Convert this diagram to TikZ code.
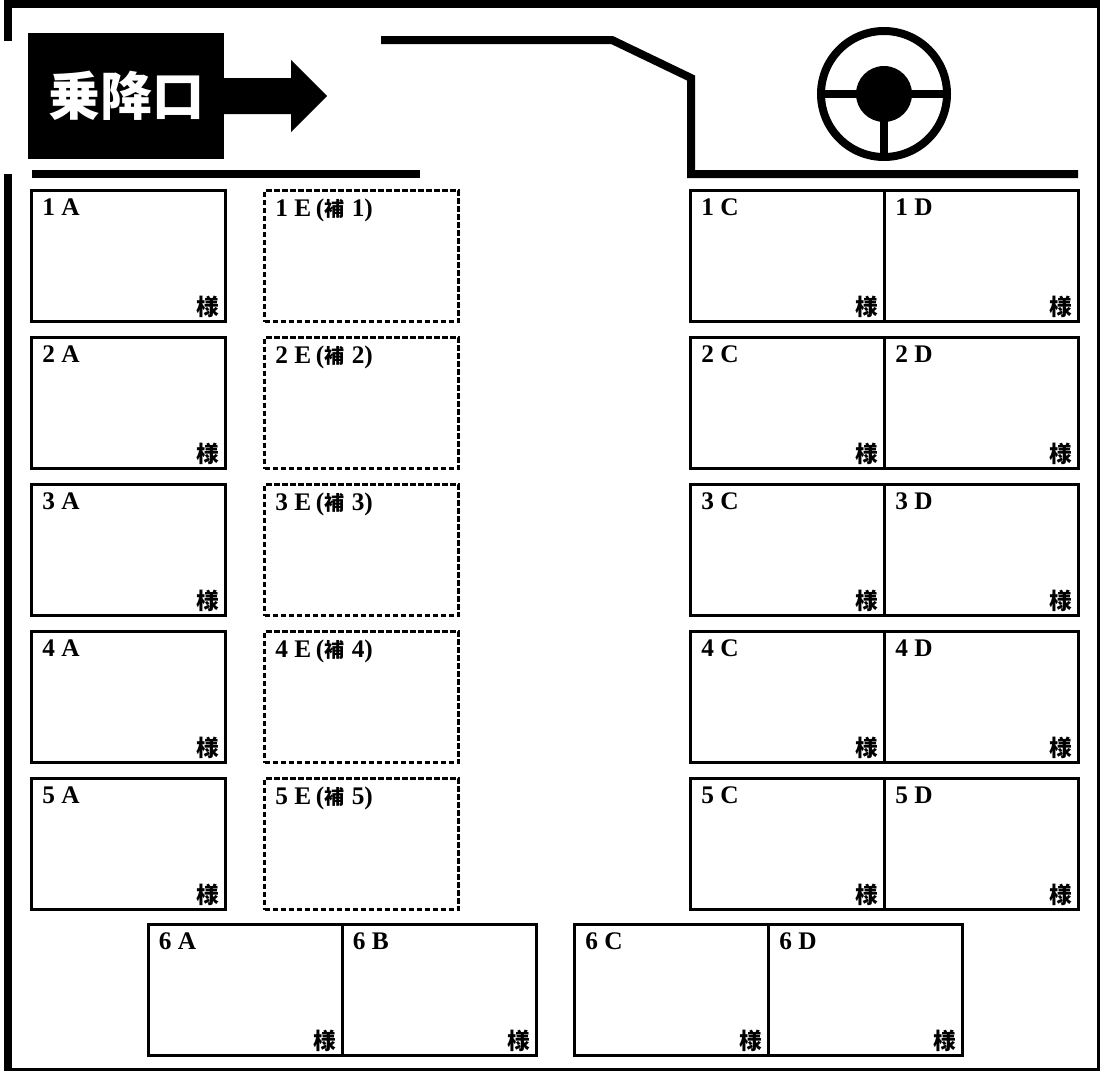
\documentclass[tikz,border=0pt]{standalone}
\usepackage{fontspec}
\newfontfamily\cjk{Noto Sans CJK JP}
\newfontfamily\latin{Liberation Serif}

\tikzset{
  wall/.style={line width=6pt},
  thinwall/.style={line width=2.25pt},
  seat/.style={draw, line width=2.25pt, rectangle, inner sep=0pt, outer sep=0pt,
    minimum width=145.5pt, minimum height=98.25pt, anchor=north west},
  spare/.style={seat, dash pattern=on 4.2pt off 1.8pt},
  seatno/.style={anchor=north west, inner sep=0pt, font=\fontsize{19}{19}\selectfont\latin\bfseries, xshift=8pt, yshift=-6.2pt},
  sama/.style={anchor=south east, inner sep=0pt, font=\fontsize{17}{17}\selectfont\cjk\bfseries, xshift=-4.5pt, yshift=3pt}
}
\newcommand{\Seat}[4]{
  \node[seat] (#1) at (#2,#3) {};
  \node[seatno] (#1no) at (#1.north west) {#4};
  \node[sama] (#1sama) at (#1.south east) {様};
}
\newcommand{\Spare}[5]{
  \node[spare] (#1) at (#2,#3) {};
  \node[seatno] (#1no) at (#1.north west) {#4\kern3.5pt({\fontsize{15}{15}\selectfont\cjk\bfseries 補}\kern5.5pt #5)};
}

\begin{document}
\begin{tikzpicture}[x=0.75pt, y=-0.75pt]
    \useasboundingbox (0,0) rectangle (1100,1071);

    % outer frame
    \draw[wall] (8,41) -- (8,4) -- (1100,4);
    \draw[wall] (8,174) -- (8,1071);
    \draw[thinwall] (8,1069.5) -- (1098.5,1069.5) -- (1098.5,8);

    % door
    \node[fill=black, text=white, inner sep=0pt, outer sep=0pt, minimum width=147pt, minimum height=94.5pt, anchor=north west,
      font=\fontsize{39}{39}\selectfont\cjk\bfseries] (door) at (28,33) {乗降口};
    \fill (door.east |- 0,78) -- (291,78) -- (291,60) -- (327,96) -- (291,132) -- (291,114) -- (door.east |- 0,114) -- cycle;

    % cabin walls
    \draw[wall] (32,174) -- (420,174);
    \draw[wall] (381,40) -- (612,40) -- (691,78) -- (691,174) -- (1078,174);

    % steering wheel
    \node[circle, draw, line width=6pt, minimum size=94.5pt, inner sep=0pt, outer sep=0pt] (wheel) at (884,94) {};
    \node[circle, fill=black, minimum size=42pt, inner sep=0pt, outer sep=0pt] (hub) at (wheel.center) {};
    \draw[wall] (wheel.west) -- (wheel.east);
    \draw[wall] (hub.center) -- (wheel.south);

    % seats
    \Seat{1A}{31.5}{190.5}{1 A}
    \Seat{2A}{31.5}{337.5}{2 A}
    \Seat{3A}{31.5}{484.5}{3 A}
    \Seat{4A}{31.5}{631.5}{4 A}
    \Seat{5A}{31.5}{778.5}{5 A}

    \Spare{1E}{264.5}{190.5}{1 E}{1}
    \Spare{2E}{264.5}{337.5}{2 E}{2}
    \Spare{3E}{264.5}{484.5}{3 E}{3}
    \Spare{4E}{264.5}{631.5}{4 E}{4}
    \Spare{5E}{264.5}{778.5}{5 E}{5}

    \Seat{1C}{690.5}{190.5}{1 C}
    \Seat{2C}{690.5}{337.5}{2 C}
    \Seat{3C}{690.5}{484.5}{3 C}
    \Seat{4C}{690.5}{631.5}{4 C}
    \Seat{5C}{690.5}{778.5}{5 C}

    \Seat{1D}{884.5}{190.5}{1 D}
    \Seat{2D}{884.5}{337.5}{2 D}
    \Seat{3D}{884.5}{484.5}{3 D}
    \Seat{4D}{884.5}{631.5}{4 D}
    \Seat{5D}{884.5}{778.5}{5 D}

    \Seat{6A}{148}{924.5}{6 A}
    \Seat{6B}{342}{924.5}{6 B}
    \Seat{6C}{574.5}{924.5}{6 C}
    \Seat{6D}{768.5}{924.5}{6 D}
  \end{tikzpicture}
\end{document}
